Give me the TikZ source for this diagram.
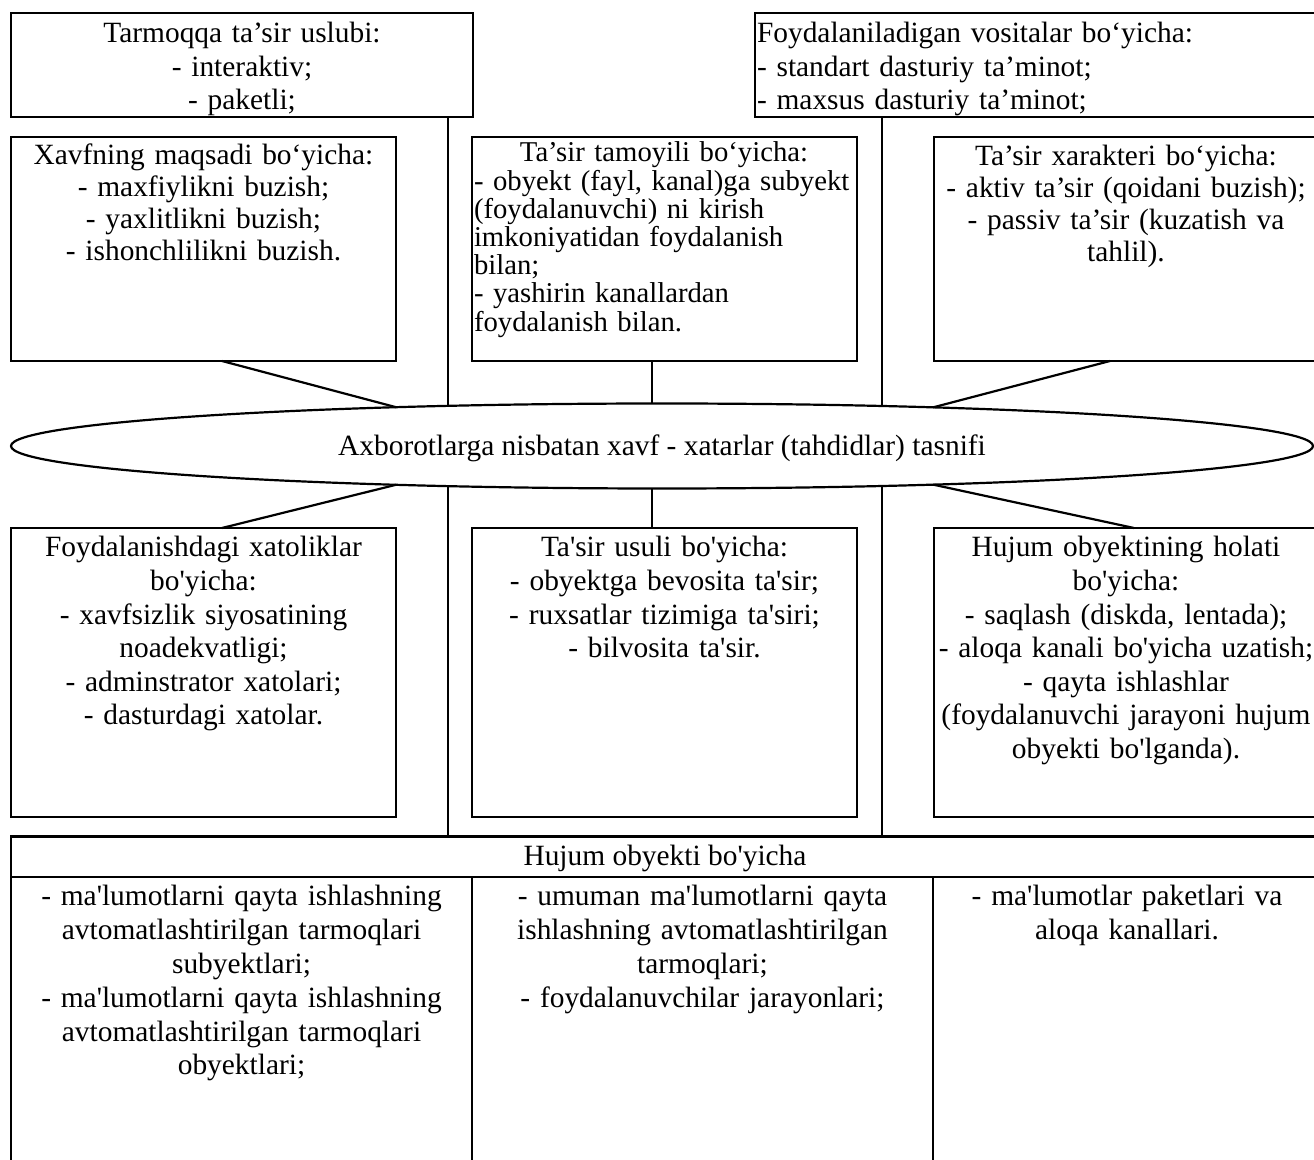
\documentclass[tikz,border=0pt]{standalone}
\usepackage{fontspec}
\newfontfamily\tnr{Liberation Serif}
\usetikzlibrary{shapes.geometric,backgrounds,calc}
\hyphenpenalty=10000
\exhyphenpenalty=10000
\begin{document}
\begin{tikzpicture}[x=0.5pt,y=-0.5pt,
  box/.style={draw, line width=1.1pt, inner sep=0pt, outer sep=0pt, anchor=north west, fill=white},
  ell/.style={draw, ellipse, line width=1.1pt, inner sep=0pt, outer sep=0pt, fill=white,
    minimum width=651pt, minimum height=42.5pt, text height=12pt, text depth=2pt,
    font=\tnr\fontsize{14.7}{16.75}\selectfont},
  ln/.style={draw, line width=1.1pt},
  txt/.style={inner sep=0pt, outer sep=0pt, anchor=base, align=center},
  fa/.style={font=\tnr\fontsize{14.7}{16.75}\selectfont},
  fc/.style={font=\tnr\fontsize{14.7}{16}\selectfont},
  fd/.style={font=\tnr\fontsize{14.35}{14.1}\selectfont},
  ff/.style={font=\tnr\fontsize{14.7}{16.8}\selectfont},
  ft/.style={font=\tnr\fontsize{14.7}{16.9}\selectfont}]
\useasboundingbox (0,0) rectangle (1314,1160);

% top row
\node[box, minimum width=231pt, minimum height=52pt] (A) at (11,13) {};
\node[box, minimum width=282.5pt, minimum height=52pt] (B) at (755,13) {};
\node[txt, fa, text width=231pt] (At) at (242,43) {Tarmoqqa ta’sir uslubi:\\- interaktiv;\\- paketli;};
\node[txt, fa, anchor=base west, align=left, text width=270pt] (Bt) at (757,43) {Foydalaniladigan vositalar bo‘yicha:\\- standart dasturiy ta’minot;\\- maxsus dasturiy ta’minot;};

% second row
\node[box, minimum width=192.5pt, minimum height=112pt] (C) at (11,137) {};
\node[box, minimum width=192.5pt, minimum height=112pt] (D) at (472,137) {};
\node[box, minimum width=192.5pt, minimum height=112pt] (E) at (934,137) {};
\node[txt, fc, text width=192pt] (Ct) at (203.5,165) {Xavfning maqsadi bo‘yicha:\\- maxfiylikni buzish;\\- yaxlitlikni buzish;\\- ishonchlilikni buzish.};
\node[txt, fd, anchor=base west, align=left, text width=210pt] (Dt) at (474,162) {\makebox[190pt][c]{Ta’sir tamoyili bo‘yicha:}\\- obyekt (fayl, kanal)ga subyekt\\(foydalanuvchi) ni kirish\\imkoniyatidan foydalanish\\bilan;\\- yashirin kanallardan\\foydalanish bilan.};
\node[txt, fc, text width=200pt] (Et) at (1126,166) {Ta’sir xarakteri bo‘yicha:\\- aktiv ta’sir (qoidani buzish);\\- passiv ta’sir (kuzatish va\\tahlil).};

% central ellipse
\node[ell] (X) at (662,446) {Axborotlarga nisbatan xavf - xatarlar (tahdidlar) tasnifi};
\coordinate (eUL) at ($(X.center)+(-266,-38.8)$);
\coordinate (eLL) at ($(X.center)+(-266,38.8)$);
\coordinate (eUR) at ($(X.center)+(271,-38.6)$);
\coordinate (eLR) at ($(X.center)+(271,38.6)$);

% third row
\node[box, minimum width=192.5pt, minimum height=144.5pt] (F) at (11,528) {};
\node[box, minimum width=192.5pt, minimum height=144.5pt] (G) at (472,528) {};
\node[box, minimum width=192.5pt, minimum height=144.5pt] (H) at (934,528) {};
\node[txt, ff, text width=200pt] (Ft) at (203.5,557) {Foydalanishdagi xatoliklar\\bo'yicha:\\- xavfsizlik siyosatining\\noadekvatligi;\\- adminstrator xatolari;\\- dasturdagi xatolar.};
\node[txt, ff, text width=200pt] (Gt) at (664.5,557) {Ta'sir usuli bo'yicha:\\- obyektga bevosita ta'sir;\\- ruxsatlar tizimiga ta'siri;\\- bilvosita ta'sir.};
\node[txt, ff, text width=200pt] (Ht) at (1126,557) {Hujum obyektining holati\\bo'yicha:\\- saqlash (diskda, lentada);\\- aloqa kanali bo'yicha uzatish;\\- qayta ishlashlar\\(foydalanuvchi jarayoni hujum\\obyekti bo'lganda).};

% bottom table
\node[box, minimum width=654.5pt, minimum height=20.25pt] (T) at (11,836.5) {};
\node[txt, ft] (Tt) at (665,866) {Hujum obyekti bo'yicha};
\node[box, minimum width=230.5pt, minimum height=160pt] (T1) at (11,877) {};
\node[box, minimum width=230.5pt, minimum height=160pt] (T2) at (472,877) {};
\node[box, minimum width=195pt, minimum height=160pt] (T3) at (933,877) {};
\node[txt, ft, text width=230pt] (T1t) at (241.5,906) {- ma'lumotlarni qayta ishlashning\\avtomatlashtirilgan tarmoqlari\\subyektlari;\\- ma'lumotlarni qayta ishlashning\\avtomatlashtirilgan tarmoqlari\\obyektlari;};
\node[txt, ft, text width=230pt] (T2t) at (702.5,906) {- umuman ma'lumotlarni qayta\\ishlashning avtomatlashtirilgan\\tarmoqlari;\\- foydalanuvchilar jarayonlari;};
\node[txt, ft, text width=194pt] (T3t) at (1127,906) {- ma'lumotlar paketlari va\\aloqa kanallari.};

% connectors through the ellipse (behind it)
\begin{scope}[on background layer]
  \draw[ln] ([xshift=-12.5pt]A.south east) coordinate (a1) -- (a1 |- T.north);
  \draw[ln] ([xshift=63.5pt]B.south west) coordinate (b1) -- (b1 |- T.north);
  \draw[ln] ([xshift=-6.25pt]D.south) coordinate (d1) -- (d1 |- G.north);
\end{scope}

% diagonal connectors
\draw[ln] ([xshift=9.25pt]C.south) -- (eUL);
\draw[ln] (eLL) -- ([xshift=9.25pt]F.north);
\draw[ln] ([xshift=-8.25pt]E.south) -- (eUR);
\draw[ln] (eLR) -- ([xshift=3.75pt]H.north);
\end{tikzpicture}
\end{document}
